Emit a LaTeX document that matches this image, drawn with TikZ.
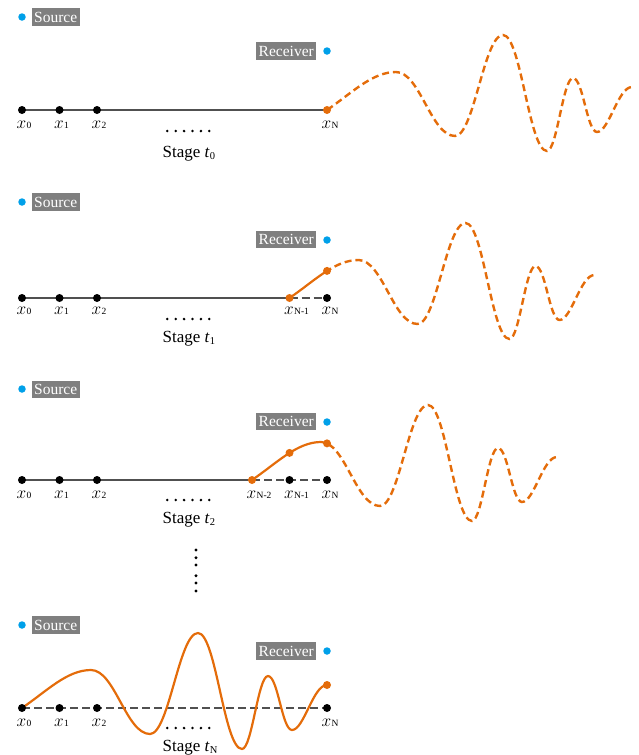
\documentclass[tikz,border=0pt]{standalone}
\usepackage{fontspec}
\setmainfont{Liberation Serif}
\usetikzlibrary{intersections}
\definecolor{wor}{HTML}{E46C0A}
\definecolor{wblue}{HTML}{00A0E9}
\definecolor{wgray}{HTML}{505050}
\definecolor{boxgray}{HTML}{7F7F7F}
\newcommand\wavecurve{(0,0) .. controls +(25,-17) and +(-24,0) .. (69,-38)
 .. controls +(24,0) and +(-24,0) .. (128,26)
 .. controls +(19,0) and +(-19,0) .. (176,-75)
 .. controls +(18,0) and +(-18,0) .. (220,41)
 .. controls +(10,0) and +(-10,0) .. (246,-32)
 .. controls +(10,0) and +(-10,0) .. (270,22)
 .. controls +(12,0) and +(-14,0) .. (305,-23)}
\newcommand\xlab[1]{$x$\kern0.4pt{\fontsize{9.5}{9.5}\selectfont #1}}
\newcommand\stagelab[1]{Stage \textit{t}{\fontsize{10.5}{10.5}\selectfont\raisebox{-2.5pt}{#1}}}
\tikzset{
  bdot/.style={circle, fill=black, inner sep=0pt, minimum size=8pt},
  odot/.style={circle, fill=wor, inner sep=0pt, minimum size=8pt},
  bludot/.style={circle, fill=wblue, inner sep=0pt, minimum size=7.5pt},
  gline/.style={draw=wgray, line width=2pt},
  gdash/.style={draw=wgray, line width=2.4pt, dash pattern=on 8pt off 4pt},
  owave/.style={draw=wor, line width=2.2pt, line join=round},
  odash/.style={draw=wor, line width=2.4pt, dash pattern=on 7pt off 4pt},
  boxl/.style={fill=boxgray, text=white, inner xsep=2.5pt, inner ysep=0pt, minimum height=17.5pt, font=\fontsize{15.5}{15.5}\selectfont},
  xl/.style={anchor=base west, inner sep=0pt, font=\fontsize{18}{18}\selectfont},
  stg/.style={anchor=base west, inner sep=0pt, font=\fontsize{17}{18}\selectfont},
  sdot/.style={fill=black}
}
\begin{document}
\begin{tikzpicture}[x=1pt,y=-1pt]
\useasboundingbox (0,0) rectangle (639,755);
% ================= Panel 1 =================
\node[bludot] (src1) at (22,17) {};
\node[boxl, anchor=west] (srcl1) at (31.5,17) {Source};
\node[bludot] (rcv1) at (327,51) {};
\node[boxl, anchor=east] (rcvl1) at (316.5,51) {Receiver};
\coordinate (a10) at (22,110);
\coordinate (a1N) at (327,110);
\draw[gline] (a10) -- (a1N);
\draw[odash, shift={(327,110)}] \wavecurve;
\node[bdot] (b10) at (22,110) {};
\node[bdot] (b11) at (59.5,110) {};
\node[bdot] (b12) at (97,110) {};
\node[odot] (b1N) at (327,110) {};
\node[xl] (l10) at (16.5,128) {\xlab{0}};
\node[xl] (l11) at (54,128) {\xlab{1}};
\node[xl] (l12) at (91.5,128) {\xlab{2}};
\node[xl] (l1N) at (321.5,128) {\xlab{N}};
\foreach \i in {0,...,5} \fill[sdot] (167.3+8.4*\i,131) circle (1.4pt);
\node[stg] (st1) at (162.5,157) {\stagelab{0}};
% ================= Panel 2 =================
\node[bludot] (src2) at (22,202) {};
\node[boxl, anchor=west] (srcl2) at (31.5,202) {Source};
\node[bludot] (rcv2) at (327,240) {};
\node[boxl, anchor=east] (rcvl2) at (316.5,239.5) {Receiver};
\coordinate (a20) at (22,298);
\coordinate (a2M) at (289.5,298);
\coordinate (a2N) at (327,298);
\draw[gline] (a20) -- (a2M);
\draw[gdash] (a2M) -- (a2N);
\begin{scope}
\clip (0,180) rectangle (327,370);
\draw[owave, shift={(289.5,298)}] \wavecurve;
\end{scope}
\begin{scope}
\clip (327,180) rectangle (639,370);
\draw[odash, name path global=w2, shift={(289.5,298)}] \wavecurve;
\end{scope}
\path[name path=v2] (327,180) -- (327,370);
\path[name intersections={of=w2 and v2, by=p2}];
\node[bdot] (b20) at (22,298) {};
\node[bdot] (b21) at (59.5,298) {};
\node[bdot] (b22) at (97,298) {};
\node[odot] (b2M) at (289.5,298) {};
\node[bdot] (b2N) at (327,298) {};
\node[odot] (o2) at (p2) {};
\node[xl] (l20) at (16.5,314) {\xlab{0}};
\node[xl] (l21) at (54,314) {\xlab{1}};
\node[xl] (l22) at (91.5,314) {\xlab{2}};
\node[xl] (l2M) at (284,314) {\xlab{N-1}};
\node[xl] (l2N) at (321.5,314) {\xlab{N}};
\foreach \i in {0,...,5} \fill[sdot] (167.3+8.4*\i,319) circle (1.4pt);
\node[stg] (st2) at (162.5,342) {\stagelab{1}};
% ================= Panel 3 =================
\node[bludot] (src3) at (22,389) {};
\node[boxl, anchor=west] (srcl3) at (31.5,389.5) {Source};
\node[bludot] (rcv3) at (327,422) {};
\node[boxl, anchor=east] (rcvl3) at (316.5,421.5) {Receiver};
\coordinate (a30) at (22,480);
\coordinate (a3L) at (252,480);
\coordinate (a3N) at (327,480);
\draw[gline] (a30) -- (a3L);
\draw[gdash] (a3L) -- (a3N);
\begin{scope}
\clip (0,370) rectangle (327,540);
\draw[owave, shift={(252,480)}] \wavecurve;
\end{scope}
\begin{scope}
\clip (327,370) rectangle (639,540);
\draw[odash, name path global=w3, shift={(252,480)}] \wavecurve;
\end{scope}
\path[name path=v3a] (289.5,370) -- (289.5,540);
\path[name path=v3b] (327,370) -- (327,540);
\path[name intersections={of=w3 and v3a, by=p3a}];
\path[name intersections={of=w3 and v3b, by=p3b}];
\node[bdot] (b30) at (22,480) {};
\node[bdot] (b31) at (59.5,480) {};
\node[bdot] (b32) at (97,480) {};
\node[odot] (b3L) at (252,480) {};
\node[bdot] (b3M) at (289.5,480) {};
\node[bdot] (b3N) at (327,480) {};
\node[odot] (o3a) at (p3a) {};
\node[odot] (o3b) at (p3b) {};
\node[xl] (l30) at (16.5,498) {\xlab{0}};
\node[xl] (l31) at (54,498) {\xlab{1}};
\node[xl] (l32) at (91.5,498) {\xlab{2}};
\node[xl] (l3L) at (246.5,498) {\xlab{N-2}};
\node[xl] (l3M) at (284,498) {\xlab{N-1}};
\node[xl] (l3N) at (321.5,498) {\xlab{N}};
\foreach \i in {0,...,5} \fill[sdot] (167.3+8.4*\i,500) circle (1.4pt);
\node[stg] (st3) at (162.5,523) {\stagelab{2}};
% vertical dots
\foreach \yy in {550,557.7,565,575.7,583,591} \fill[sdot] (196,\yy) circle (1.7pt);
% ================= Panel 4 =================
\node[bludot] (src4) at (22,625) {};
\node[boxl, anchor=west] (srcl4) at (31.5,625) {Source};
\node[bludot] (rcv4) at (327,651) {};
\node[boxl, anchor=east] (rcvl4) at (316.5,651) {Receiver};
\coordinate (a40) at (22,708);
\coordinate (a4N) at (327,708);
\draw[gdash] (a40) -- (a4N);
\draw[owave, shift={(22,708)}] \wavecurve coordinate (w4end);
\node[bdot] (b40) at (22,708) {};
\node[bdot] (b41) at (59.5,708) {};
\node[bdot] (b42) at (97,708) {};
\node[bdot] (b4N) at (327,708) {};
\node[odot] (o4) at (w4end) {};
\node[xl] (l40) at (16.5,726) {\xlab{0}};
\node[xl] (l41) at (54,726) {\xlab{1}};
\node[xl] (l42) at (91.5,726) {\xlab{2}};
\node[xl] (l4N) at (321.5,726) {\xlab{N}};
\foreach \i in {0,...,5} \fill[sdot] (167.3+8.4*\i,728) circle (1.4pt);
\node[stg] (st4) at (162.5,751) {\stagelab{N}};
\end{tikzpicture}
\end{document}
